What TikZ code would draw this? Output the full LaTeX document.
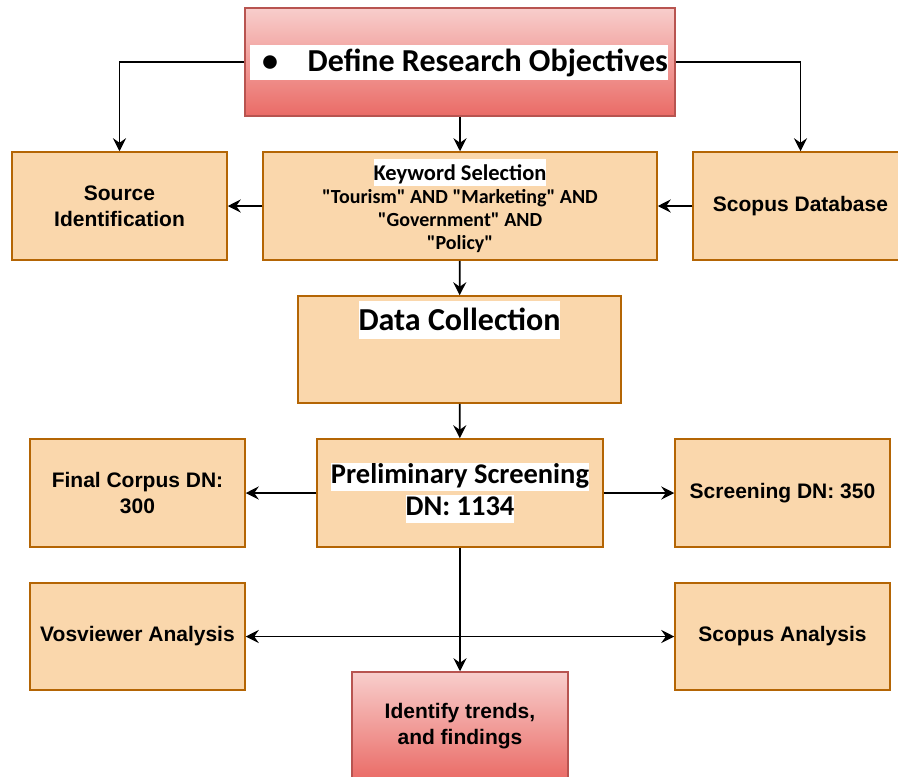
\documentclass[tikz,border=0pt]{standalone}
\usepackage{fontspec}
\setmainfont{Liberation Sans}
\newfontfamily\calibri{Carlito}
\usetikzlibrary{arrows.meta,positioning}
\definecolor{boxfill}{HTML}{FAD7AC}
\definecolor{boxline}{HTML}{B46504}
\definecolor{redtop}{HTML}{F8CECC}
\definecolor{redbot}{HTML}{EA6B66}
\definecolor{redline}{HTML}{B85450}
% white highlight behind a line of text
\newcommand{\hl}[2][1.3em]{{\setlength{\fboxsep}{0pt}\colorbox{white}{\rule[-0.25em]{0pt}{#1}#2}}}
\tikzset{
  stepbox/.style={draw=boxline, fill=boxfill, line width=1.5pt, inner sep=0pt,
    minimum width=215pt, minimum height=108pt, align=center,
    font=\fontsize{21pt}{26pt}\selectfont\bfseries},
  redbox/.style={draw=redline, top color=redtop, bottom color=redbot, line width=1.5pt,
    inner sep=0pt, minimum height=108pt, align=center,
    font=\fontsize{21pt}{26pt}\selectfont\bfseries},
  flow/.style={line width=1.8pt, -{Stealth[length=13pt,width=13pt,inset=4.5pt]}},
  twoway/.style={line width=1.8pt, {Stealth[length=13pt,width=13pt,inset=4.5pt]}-{Stealth[length=13pt,width=13pt,inset=4.5pt]}}
}
\begin{document}
\begin{tikzpicture}[x=1pt, y=-1pt]
\useasboundingbox (0,0) rectangle (898,777);

% boxes
\node [redbox, minimum width=430pt] (obj) at (460,62) {};
\node [fill=white, inner sep=0pt, minimum height=35pt, font=\calibri\fontsize{32pt}{36pt}\selectfont\bfseries] (objtxt) at (459,62.5)
  {\hbox to 418pt{\hspace{12pt}\textbullet\hfill Define Research Objectives}};

\node [stepbox] (src) at (119.5,206) {Source\\Identification};
\node [stepbox, minimum width=394pt, font=\calibri\fontsize{20pt}{23pt}\selectfont\bfseries] (kw) at (460,206)
  {{\fontsize{22.5pt}{23pt}\selectfont\hl[1.18em]{Keyword Selection}}\\"Tourism" AND "Marketing" AND\\"Government" AND\\"Policy"};
\node [stepbox] (scdb) at (800.5,206) {Scopus Database};

\node [stepbox, minimum width=323pt, minimum height=107pt] (dc) at (459.5,349.5) {};
\node [inner sep=0pt, anchor=north, font=\calibri\fontsize{32pt}{36pt}\selectfont\bfseries] (dctxt) at ([yshift=-6pt]dc.north) {\hl[1.17em]{Data Collection}};

\node [stepbox] (fc) at (137.5,493) {Final Corpus DN:\\300};
\node [stepbox, minimum width=286pt, font=\calibri\fontsize{28.5pt}{32pt}\selectfont\bfseries] (ps) at (460,493)
  {\hl[0.98em]{Preliminary Screening}\\\hl[0.98em]{DN: 1134}};
\node [stepbox] (sc) at (782.5,493) {Screening DN: 350};

\node [stepbox, minimum height=107pt] (vos) at (137.5,636.5) {Vosviewer Analysis};
\node [stepbox, minimum height=107pt] (sa) at (782.5,636.5) {Scopus Analysis};

\node [redbox, minimum width=216pt] (it) at (460,726) {Identify trends,\\and findings};

% connectors
\draw [flow] (obj.west) -| (src.north);
\draw [flow] (obj.east) -| (scdb.north);
\draw [flow] (obj) -- (kw);
\draw [flow] (kw) -- (src);
\draw [flow] (scdb) -- (kw);
\draw [flow] (kw) -- (dc);
\draw [flow] (dc) -- (ps);
\draw [flow] (ps) -- (fc);
\draw [flow] (ps) -- (sc);
\draw [twoway] (vos) -- (sa);
\draw [flow] (ps) -- (it);
\end{tikzpicture}
\end{document}
